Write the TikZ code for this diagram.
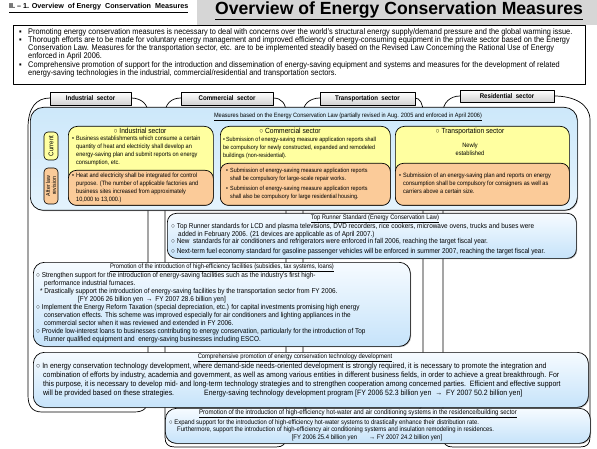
\documentclass[tikz,border=0pt]{standalone}
\usepackage{fontspec}
\setmainfont{Liberation Sans}[FakeStretch=0.9]
\newfontfamily\plainf{Liberation Sans}
\usetikzlibrary{shadows}
\newcommand\fsz[2]{\fontsize{#1}{#2}\selectfont}
\newcommand\bu{\makebox[4pt][l]{•}}
\newcommand\hi{\hspace*{4pt}}
\definecolor{ylw}{RGB}{255,255,160}
\definecolor{org}{RGB}{251,203,153}
\definecolor{mblueT}{RGB}{205,232,250}
\definecolor{mblueB}{RGB}{228,243,253}
\definecolor{lblueT}{RGB}{246,251,255}
\definecolor{lblueB}{RGB}{198,227,250}
\definecolor{hdrgray}{RGB}{214,214,214}
\tikzset{
 box/.style={draw, line width=0.7pt, inner sep=0pt, anchor=north west},
 shd/.style={drop shadow={shadow xshift=0.8pt, shadow yshift=-0.8pt, opacity=0.6}},
 bluebox/.style={box, shd, rounded corners=11pt, top color=lblueT, bottom color=lblueB},
 measbox/.style={box, shd, rounded corners=13pt, top color=mblueT, bottom color=mblueB},
 ybox/.style={box, rounded corners=9pt, fill=ylw},
 obox/.style={box, rounded corners=8pt, fill=org},
 tabbox/.style={draw, line width=0.6pt, top color=white, bottom color=gray!35, font=\bfseries\fsz{6.8}{7}, inner sep=0pt, minimum height=13pt, drop shadow={shadow xshift=0.9pt, shadow yshift=-0.9pt, opacity=0.7}},
 colline/.style={line width=0.7pt},
 txt/.style={inner sep=0pt, anchor=north west, align=left},
 ttl/.style={inner sep=0pt, anchor=center},
}
\begin{document}
\begin{tikzpicture}[x=1pt,y=-1pt,line join=round]
\useasboundingbox (0,0) rectangle (597,449);
\fill[white] (0,0) rectangle (597,449);
\fill[hdrgray] (197,0) rectangle (597,25);

% header
\node[ttl, anchor=west, font=\plainf\bfseries\fsz{7.2}{8}] (hdr) at (9,8) {\underline{II. – 1. Overview\ \ of Energy\ \ Conservation\ \ Measures}};
\node[ttl, anchor=west, font=\plainf\bfseries\fsz{17.6}{18}] (title) at (215,10.5) {\underline{Overview of Energy Conservation Measures}};

% bullets
\node[box, minimum width=572pt, minimum height=59pt, fill=white, drop shadow={shadow xshift=1pt, shadow yshift=-1pt, opacity=0.8}] (bul) at (13,25) {};
\node[txt, font=\fsz{8.2}{8}] (bult) at (19,28.5) {%
\makebox[9pt][l]{▪}Promoting energy conservation measures is necessary to deal with concerns over the world's structural energy supply/demand pressure and the global warming issue.\\
\makebox[9pt][l]{▪}Thorough efforts are to be made for voluntary energy management and improved efficiency of energy-consuming equipment in the private sector based on the Energy\\
\hspace*{9pt}Conservation Law. Measures for the transportation sector, etc. are to be implemented steadily based on the Revised Law Concerning the Rational Use of Energy\\
\hspace*{9pt}enforced in April 2006.\\[1pt]
\makebox[9pt][l]{▪}Comprehensive promotion of support for the introduction and dissemination of energy-saving equipment and systems and measures for the development of related\\
\hspace*{9pt}energy-saving technologies in the industrial, commercial/residential and transportation sectors.};

% sector columns
\draw[colline] (28,395) -- (28,128) .. controls (28,108) and (36,98) .. (50,98) -- (131,98) .. controls (141,98) and (148,104) .. (148,113) -- (148,398) .. controls (148,408) and (144,412) .. (134,412) -- (42,412) .. controls (32,412) and (28,406) .. (28,395);
\draw[colline] (165,437) -- (165,114) .. controls (165,104) and (171,98) .. (181,98) -- (273,98) .. controls (282,98) and (286,104) .. (286,113) -- (286,437) .. controls (286,444) and (283,447) .. (276,447) -- (175,447) .. controls (168,447) and (165,444) .. (165,437);
\draw[colline] (303,400) -- (303,113) .. controls (303,104) and (310,98) .. (320,98) -- (415,98) .. controls (420,98) and (423,104) .. (423,112) -- (423,400) .. controls (423,407) and (420,411) .. (413,411) -- (313,411) .. controls (306,411) and (303,407) .. (303,400);
\draw[colline] (443,437) -- (443,112) .. controls (443,103) and (450,96) .. (460,96) -- (554,96) .. controls (574,96) and (590,104) .. (590,120) -- (590,437) .. controls (590,444) and (587,447) .. (580,447) -- (453,447) .. controls (446,447) and (443,444) .. (443,437);

\node[tabbox, minimum width=81pt] (tabI) at (90.5,98.5) {Industrial\ \ sector};
\node[tabbox, minimum width=92pt] (tabC) at (227,98.5) {Commercial\ \ sector};
\node[tabbox, minimum width=95pt] (tabT) at (367.5,98.5) {Transportation\ \ sector};
\node[tabbox, minimum width=94pt, minimum height=12pt] (tabR) at (507,96) {Residential\ \ sector};

% measures box
\node[measbox, minimum width=547pt, minimum height=103pt] (meas) at (30,107) {};
\node[ttl, font=\fsz{6.2}{7}] (meast) at (348,117) {\underline{Measures based on the Energy Conservation Law (partially revised in Aug. 2005 and enforced in April 2006)}};

\node[draw, line width=0.6pt, fill=ylw, rounded corners=4pt, rotate=90, minimum width=28pt, minimum height=14pt, inner sep=0pt, font=\fsz{6.8}{7}] (cur) at (51,146) {Current};
\node[draw, line width=0.6pt, fill=org, rounded corners=4pt, rotate=90, minimum width=36pt, minimum height=14pt, inner sep=0pt, align=center, font=\fsz{5.8}{6}] (aft) at (51,186) {After law\\revision};

% industrial
\node[ybox, minimum width=145pt, minimum height=79pt] (indy) at (68,126) {};
\node[obox, minimum width=145pt, minimum height=35pt] (indo) at (68,170) {};
\node[ttl, font=\fsz{7.4}{8}] (indt) at (140,130.5) {○ Industrial sector};
\node[txt, font=\fsz{6.2}{8}] (indyt) at (72,136) {\bu Business establishments which consume a certain\\
\hi quantity of heat and electricity shall develop an\\
\hi energy-saving plan and submit reports on energy\\
\hi consumption, etc.};
\node[txt, font=\fsz{6.2}{8}] (indot) at (72,173) {\bu Heat and electricity shall be integrated for control\\
\hi purpose. (The number of applicable factories and\\
\hi business sites increased from approximately\\
\hi 10,000 to 13,000.)};

% commercial
\node[ybox, minimum width=170pt, minimum height=79pt] (comy) at (220,126) {};
\node[obox, minimum width=170pt, minimum height=42pt] (como) at (220,163) {};
\node[ttl, font=\fsz{7.4}{8}] (comt) at (290,130.5) {○ Commercial sector};
\node[txt, font=\fsz{6}{8}] (comyt) at (223,137) {•\,Submission of energy-saving measure application reports shall\\
be compulsory for newly constructed, expanded and remodeled\\
buildings (non-residential).};
\node[txt, font=\fsz{6}{8}] (comot) at (226,168) {\bu Submission of energy-saving measure application reports\\
\hi shall be compulsory for large-scale repair works.\\[2pt]
\bu Submission of energy-saving measure application reports\\
\hi shall also be compulsory for large residential housing.};

% transportation
\node[ybox, minimum width=174pt, minimum height=79pt] (tray) at (395,126) {};
\node[obox, minimum width=174pt, minimum height=42pt] (trao) at (395,163) {};
\node[ttl, font=\fsz{7.4}{8}] (trat) at (470,131.5) {○ Transportation sector};
\node[ttl, align=center, font=\fsz{6.3}{8}] (tran) at (470,149) {Newly\\established};
\node[txt, font=\fsz{6.2}{8}] (traot) at (399,172.5) {\bu Submission of an energy-saving plan and reports on energy\\
\hi consumption shall be compulsory for consigners as well as\\
\hi carriers above a certain size.};

% top runner
\node[bluebox, rounded corners=9pt, minimum width=409pt, minimum height=45pt] (tr) at (167,213) {};
\node[ttl, font=\fsz{6.5}{7}] (trt) at (375,218.5) {\underline{Top Runner Standard (Energy Conservation Law)}};
\node[txt, font=\fsz{7.1}{7.7}] (trx) at (171,223) {○ Top Runner standards for LCD and plasma televisions, DVD recorders, rice cookers, microwave ovens, trucks and buses were\\
\hspace*{7pt}added in February 2006. (21 devices are applicable as of April 2007.)\\
○ New\ \ standards for air conditioners and refrigerators were enforced in fall 2006, reaching the target fiscal year.\\[2pt]
○ Next-term fuel economy standard for gasoline passenger vehicles will be enforced in summer 2007, reaching the target fiscal year.};

% promotion
\node[bluebox, minimum width=377pt, minimum height=84pt] (pro) at (33,262) {};
\node[ttl, font=\fsz{6.5}{7}] (prot) at (222,267.5) {\underline{Promotion of the introduction of high-efficiency facilities (subsidies, tax systems, loans)}};
\node[txt, font=\fsz{7.1}{8}] (prox) at (36,272.5) {○ Strengthen support for the introduction of energy-saving facilities such as the industry's first high-\\
\hspace*{8pt}performance industrial furnaces.\\
\hspace*{4pt}* Drastically support the introduction of energy-saving facilities by the transportation sector from FY 2006.\\
\hspace*{42pt}[FY 2006 26 billion yen \,→\, FY 2007 28.6 billion yen]\\
○ Implement the Energy Reform Taxation (special depreciation, etc.) for capital investments promising high energy\\
\hspace*{8pt}conservation effects. This scheme was improved especially for air conditioners and lighting appliances in the\\
\hspace*{8pt}commercial sector when it was reviewed and extended in FY 2006.\\
○ Provide low-interest loans to businesses contributing to energy conservation, particularly for the introduction of Top\\
\hspace*{8pt}Runner qualified equipment and\ \ energy-saving businesses including ESCO.};

% comprehensive
\node[bluebox, minimum width=555pt, minimum height=55pt] (com) at (33,352) {};
\node[ttl, font=\fsz{6.5}{7}] (comtt) at (295,357.5) {\underline{Comprehensive promotion of energy conservation technology development}};
\node[txt, font=\fsz{7.7}{9}] (comx) at (36,362.5) {○ In energy conservation technology development, where demand-side needs-oriented development is strongly required, it is necessary to promote the integration and\\
\hspace*{7pt}combination of efforts by industry, academia and government, as well as among various entities in different business fields, in order to achieve a great breakthrough. For\\
\hspace*{7pt}this purpose, it is necessary to develop mid- and long-term technology strategies and to strengthen cooperation among concerned parties.\ \ Efficient and effective support\\
\hspace*{7pt}will be provided based on these strategies.\hspace{30pt}Energy-saving technology development program [FY 2006 52.3 billion yen\ \ →\ \ FY 2007 50.2 billion yen]};

% hot water
\node[bluebox, minimum width=425pt, minimum height=35pt] (hw) at (165,408) {};
\node[ttl, font=\fsz{6.8}{7}] (hwt) at (358,413.5) {\underline{Promotion of the introduction of high-efficiency hot-water and air conditioning systems in the residence/building sector}};
\node[txt, font=\fsz{6.6}{6}] (hwx) at (169,419.5) {○ Expand support for the introduction of high-efficiency hot-water systems to drastically enhance their distribution rate.\\
\hspace*{8pt}Furthermore, support the introduction of high-efficiency air conditioning systems and insulation remodeling in residences.};
\node[ttl, font=\fsz{6.6}{7}] (hwf) at (367,437.5) {[FY 2006 25.4 billion yen\hspace{12pt}→ FY 2007 24.2 billion yen]};
\end{tikzpicture}
\end{document}
